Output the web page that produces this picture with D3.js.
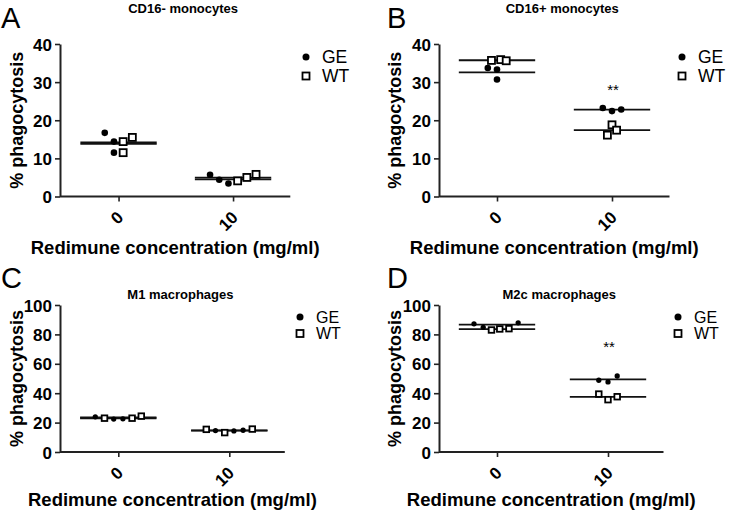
<!DOCTYPE html>
<html><head><meta charset="utf-8">
<script src="https://cdn.jsdelivr.net/npm/d3@7"></script>
<style>
body{margin:0;background:#fff}
svg{display:block}
text{font-family:"Liberation Sans",Arial,Helvetica,sans-serif;fill:#000}
</style>
</head><body>
<svg id="chart" width="730" height="515"></svg>
<script>
// ---------------- data ----------------
const categories = ["0", "10"];
const groups = ["GE", "WT"];
const panelLetters = ["A", "B", "C", "D"];
const panelTitles = ["CD16- monocytes", "CD16+ monocytes", "M1 macrophages", "M2c macrophages"];
const xAxisTitle = "Redimune concentration (mg/ml)";
const yAxisTitle = "% phagocytosis";
const ticksMonocytes = [0, 10, 20, 30, 40];
const ticksMacrophages = [0, 20, 40, 60, 80, 100];
const significance = [["", ""], ["", "**"], ["", ""], ["", "**"]];

// % phagocytosis, per panel, group and concentration
const A_GE_0 = [16.7, 14.4, 11.5], A_WT_0 = [14.4, 11.5, 15.5];
const A_GE_10 = [5.7, 4.4, 3.4],   A_WT_10 = [4.1, 5.0, 5.8];
const B_GE_0 = [33.7, 33.3, 30.7], B_WT_0 = [35.7, 35.9, 35.6];
const B_GE_10 = [23.2, 22.4, 22.8], B_WT_10 = [18.8, 17.4, 16.1];
const C_GE_0 = [23.9, 22.4, 22.6], C_WT_0 = [23.0, 23.0, 24.4];
const C_GE_10 = [14.6, 14.3, 14.8], C_WT_10 = [15.4, 13.2, 15.6];
const D_GE_0 = [87.2, 84.8, 87.9], D_WT_0 = [83.0, 83.7, 83.9];
const D_GE_10 = [48.8, 47.7, 51.7], D_WT_10 = [39.4, 35.6, 37.6];

// scatter column order of each point (spread of the column scatter)
const A_GE_0_col = [-1.5, -0.5, -0.5], A_WT_0_col = [0.5, 0.5, 1.5];
const A_GE_10_col = [-2.5, -1.5, -0.5], A_WT_10_col = [0.5, 1.5, 2.5];
const B_GE_0_col = [-1, 0, 0], B_WT_0_col = [-0.6, 0.4, 1];
const B_GE_10_col = [-1, 0, 1], B_WT_10_col = [0, 0.5, -0.5];
const C_GE_0_col = [-2.5, -0.5, 0.5], C_WT_0_col = [-1.5, 1.5, 2.5];
const C_GE_10_col = [-1.5, 0.5, 1.5], C_WT_10_col = [-2.5, -0.5, 2.5];
const D_GE_0_col = [-2.5, -1.5, 2.3], D_WT_0_col = [-0.6, 0.3, 1.3];
const D_GE_10_col = [-1, 0, 1], D_WT_10_col = [-1, 0, 1];

const panelData = [
  {GE: {"0": A_GE_0, "10": A_GE_10}, WT: {"0": A_WT_0, "10": A_WT_10},
   col: {GE: {"0": A_GE_0_col, "10": A_GE_10_col}, WT: {"0": A_WT_0_col, "10": A_WT_10_col}}, ticks: ticksMonocytes},
  {GE: {"0": B_GE_0, "10": B_GE_10}, WT: {"0": B_WT_0, "10": B_WT_10},
   col: {GE: {"0": B_GE_0_col, "10": B_GE_10_col}, WT: {"0": B_WT_0_col, "10": B_WT_10_col}}, ticks: ticksMonocytes},
  {GE: {"0": C_GE_0, "10": C_GE_10}, WT: {"0": C_WT_0, "10": C_WT_10},
   col: {GE: {"0": C_GE_0_col, "10": C_GE_10_col}, WT: {"0": C_WT_0_col, "10": C_WT_10_col}}, ticks: ticksMacrophages},
  {GE: {"0": D_GE_0, "10": D_GE_10}, WT: {"0": D_WT_0, "10": D_WT_10},
   col: {GE: {"0": D_GE_0_col, "10": D_GE_10_col}, WT: {"0": D_WT_0_col, "10": D_WT_10_col}}, ticks: ticksMacrophages}
];

// ---------------- layout ----------------
const layout = [
  {ox: 0,   oy: 0,   axisX: 60,  xStart: 61.3,  xW: 229, y0: 196.5, yT: 44,  mark: 1,   xt: 57},
  {ox: 378, oy: 0,   axisX: 439, xStart: 439.5, xW: 230, y0: 196.5, yT: 44,  mark: 1,   xt: 57},
  {ox: 0,   oy: 256, axisX: 60,  xStart: 62.8,  xW: 222, y0: 452,   yT: 305, mark: 0.8, xt: 54},
  {ox: 378, oy: 256, axisX: 439, xStart: 441.5, xW: 222, y0: 452,   yT: 305, mark: 0.8, xt: 54}
];

const FONT = "'Liberation Sans',Arial,Helvetica,sans-serif";
const svg = d3.select("#chart");
const spread = d3.scaleLinear().domain([-1, 1]).range([-9.2, 9.2]);

panelData.forEach((pd, i) => {
  const L = layout[i];
  const g = svg.append("g");
  const yMax = d3.max(pd.ticks);
  const x = d3.scalePoint().domain(categories).range([L.xStart, L.xStart + L.xW]).padding(0.5);
  const y = d3.scaleLinear().domain([0, yMax]).range([L.y0, L.yT]);

  // y axis
  const ya = g.append("g").attr("transform", `translate(${L.axisX},0)`)
    .call(d3.axisLeft(y).tickValues(pd.ticks).tickSize(5).tickSizeOuter(0).tickPadding(3));
  ya.attr("font-family", FONT).attr("font-size", 17).attr("font-weight", "bold");
  ya.select(".domain").attr("stroke", "#222").attr("stroke-width", 2);
  ya.selectAll(".tick line").attr("stroke", "#222").attr("stroke-width", 1.6);
  ya.selectAll(".tick text").attr("fill", "#000").attr("dy", "0.36em");

  // x axis
  const xa = g.append("g").attr("transform", `translate(0,${L.y0})`)
    .call(d3.axisBottom(x).tickSize(5).tickSizeOuter(0).tickFormat(""));
  xa.select(".domain").attr("stroke", "#222").attr("stroke-width", 2)
    .attr("d", `M${L.axisX},0H${L.xStart + L.xW}`);
  xa.selectAll(".tick line").attr("stroke", "#222").attr("stroke-width", 1.6);
  // rotated category labels (nested groups: translate, then rotate)
  categories.forEach(cat => {
    g.append("g")
      .attr("transform", `translate(${x(cat) + 6},${L.y0 + 22})`)
      .append("g")
      .attr("transform", "rotate(-45)")
      .append("text")
      .attr("text-anchor", "end")
      .style("font-size", "17px").style("font-weight", "bold")
      .text(cat);
  });

  const midX = (L.axisX + L.xStart + L.xW) / 2;
  // axis titles
  g.append("text").attr("x", midX).attr("y", L.y0 + L.xt)
    .attr("text-anchor", "middle").style("font-size", "18.5px").style("font-weight", "bold")
    .text(xAxisTitle);
  g.append("text").attr("transform", `translate(${L.ox + 23},${(L.y0 + L.yT) / 2}) rotate(-90)`)
    .attr("text-anchor", "middle").style("font-size", "18px").style("font-weight", "bold")
    .text(yAxisTitle);

  // panel title & letter
  g.append("text").attr("x", midX + 8).attr("y", L.oy + (i < 2 ? 13 : 43))
    .attr("text-anchor", "middle").style("font-size", "13px").style("font-weight", "bold")
    .text(panelTitles[i]);
  g.append("text").attr("x", L.ox + (i % 2 ? 9 : 1)).attr("y", L.oy + (i < 2 ? 28 : 32))
    .style("font-size", "29px").text(panelLetters[i]);

  // mean lines
  groups.forEach(grp => {
    categories.forEach(cat => {
      const m = d3.mean(pd[grp][cat]);
      g.append("line")
        .attr("x1", x(cat) + spread(-4.15)).attr("x2", x(cat) + spread(4.15))
        .attr("y1", y(m)).attr("y2", y(m))
        .attr("stroke", "#111").attr("stroke-width", 1.8);
    });
  });

  // points
  const r = 3.3 * L.mark, s = 7 * L.mark;
  categories.forEach(cat => {
    pd.GE[cat].forEach((v, k) => {
      g.append("circle").attr("cx", x(cat) + spread(pd.col.GE[cat][k])).attr("cy", y(v))
        .attr("r", r).attr("fill", "#000");
    });
    pd.WT[cat].forEach((v, k) => {
      g.append("rect").attr("x", x(cat) + spread(pd.col.WT[cat][k]) - s / 2).attr("y", y(v) - s / 2)
        .attr("width", s).attr("height", s).attr("fill", "#fff")
        .attr("stroke", "#000").attr("stroke-width", 1.8);
    });
    const sig = significance[i][categories.indexOf(cat)];
    if (sig) {
      const top = d3.max([...pd.GE[cat], ...pd.WT[cat]]);
      g.append("text").attr("x", x(cat) + 1).attr("y", i === 1 ? y(top) - 13 : y(top) - 24)
        .attr("text-anchor", "middle").style("font-size", "15px").text(sig);
    }
  });

  // legend
  const lx = (i % 2 ? L.ox + 304 : 306) - (i >= 2 ? (i % 2 ? 4 : 6) : 0);
  const ly = i < 2 ? 57 : 317;
  const gap = i < 2 ? 19 : 16.5;
  const fs = i < 2 ? 17.5 : 16;
  g.append("circle").attr("cx", lx).attr("cy", ly).attr("r", 3.5).attr("fill", "#000");
  g.append("rect").attr("x", lx - 3.5).attr("y", ly + gap - 3.5).attr("width", 7).attr("height", 7)
    .attr("fill", "#fff").attr("stroke", "#000").attr("stroke-width", 1.8);
  groups.forEach((grp, k) => {
    g.append("text").attr("x", lx + 16).attr("y", ly + k * gap + fs * 0.37)
      .style("font-size", fs + "px").text(grp);
  });
});
</script>
</body></html>
